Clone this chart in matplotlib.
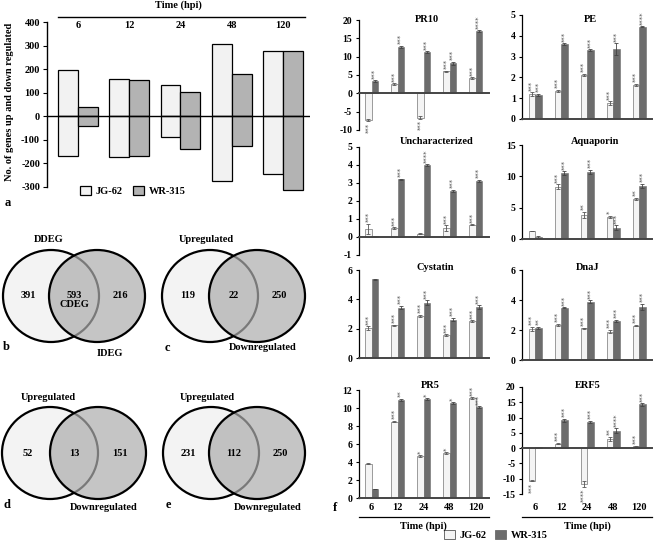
import matplotlib
matplotlib.use("Agg")
import matplotlib.pyplot as plt
import numpy as np
from matplotlib.patches import Ellipse, Rectangle
from matplotlib.lines import Line2D
from matplotlib import transforms

plt.rcParams['font.family'] = ['Liberation Serif', 'DejaVu Serif']
plt.rcParams['font.weight'] = 'bold'
plt.rcParams['axes.unicode_minus'] = False

W, H = 660, 541
fig = plt.figure(figsize=(W / 100, H / 100), dpi=100)

# ---------------- data ----------------
times = ['6', '12', '24', '48', '120']
genotypes = ['JG-62', 'WR-315']

# panel a: number of genes up / down regulated
a_jg_up = [197, 160, 133, 308, 275]
a_jg_down = [-170, -173, -88, -273, -245]
a_wr_up = [38, 152, 105, 178, 275]
a_wr_down = [-42, -168, -140, -128, -313]
a_yticks = [-300, -200, -100, 0, 100, 200, 300, 400]

# venn panels b-e
venn_b = [391, 593, 216]
venn_c = [119, 22, 250]
venn_d = [52, 13, 151]
venn_e = [231, 112, 250]

# panel f: relative expression
genes = ['PR10', 'PE', 'Uncharacterized', 'Aquaporin', 'Cystatin', 'DnaJ', 'PR5', 'ERF5']
jg_vals = {
    'PR10': [-7.3, 2.6, -6.6, 6.0, 4.2],
    'PE': [1.2, 1.36, 2.12, 0.77, 1.65],
    'Uncharacterized': [0.46, 0.5, 0.18, 0.5, 0.68],
    'Aquaporin': [1.25, 8.35, 3.85, 3.5, 6.4],
    'Cystatin': [2.05, 2.22, 2.87, 1.58, 2.53],
    'DnaJ': [2.07, 2.33, 2.11, 1.89, 2.3],
    'PR5': [3.8, 8.5, 4.65, 5.0, 11.08],
    'ERF5': [-10.6, 1.5, -11.6, 3.0, 0.6],
}
wr_vals = {
    'PR10': [3.3, 12.7, 11.2, 8.2, 16.9],
    'PE': [1.17, 3.6, 3.32, 3.37, 4.44],
    'Uncharacterized': [0.04, 3.2, 3.99, 2.57, 3.13],
    'Aquaporin': [0.32, 10.5, 10.75, 1.8, 8.5],
    'Cystatin': [5.38, 3.44, 3.78, 2.62, 3.46],
    'DnaJ': [2.16, 3.49, 3.89, 2.62, 3.55],
    'PR5': [1.0, 10.9, 10.97, 10.52, 10.07],
    'ERF5': [0.25, 9.1, 8.6, 5.7, 14.3],
}
jg_err = {
    'PR10': [0.3, 0.2, 0.3, 0.2, 0.2],
    'PE': [0.1, 0.05, 0.05, 0.1, 0.05],
    'Uncharacterized': [0.28, 0.05, 0.03, 0.15, 0.03],
    'Aquaporin': [0.05, 0.4, 0.5, 0.2, 0.2],
    'Cystatin': [0.12, 0.05, 0.07, 0.05, 0.05],
    'DnaJ': [0.15, 0.08, 0.05, 0.12, 0.05],
    'PR5': [0.05, 0.1, 0.1, 0.1, 0.1],
    'ERF5': [0.3, 0.3, 1.0, 0.8, 0.2],
}
wr_err = {
    'PR10': [0.2, 0.3, 0.3, 0.4, 0.3],
    'PE': [0.05, 0.05, 0.05, 0.27, 0.03],
    'Uncharacterized': [0.02, 0.05, 0.07, 0.05, 0.05],
    'Aquaporin': [0.1, 0.3, 0.3, 0.4, 0.3],
    'Cystatin': [0.03, 0.12, 0.15, 0.12, 0.15],
    'DnaJ': [0.07, 0.05, 0.08, 0.08, 0.2],
    'PR5': [0.05, 0.15, 0.1, 0.1, 0.1],
    'ERF5': [0.1, 0.5, 0.4, 0.8, 0.5],
}
jg_sig = {
    'PR10': ['***', '***', '***', '***', '***'],
    'PE': ['***', '***', '***', '***', '***'],
    'Uncharacterized': ['***', '***', '', '***', '***'],
    'Aquaporin': ['', '***', '**', '*', '**'],
    'Cystatin': ['***', '***', '***', '***', '***'],
    'DnaJ': ['***', '***', '***', '***', '***'],
    'PR5': ['', '***', '*', '*', '***'],
    'ERF5': ['***', '***', '****', '**', '***'],
}
wr_sig = {
    'PR10': ['***', '***', '***', '***', '****'],
    'PE': ['***', '***', '***', '***', '****'],
    'Uncharacterized': ['', '***', '****', '***', '***'],
    'Aquaporin': ['', '***', '***', '***', '***'],
    'Cystatin': ['', '***', '***', '***', '***'],
    'DnaJ': ['**', '***', '***', '***', '***'],
    'PR5': ['', '**', '*', '*', '***'],
    'ERF5': ['', '***', '***', '****', '***'],
}
f_ylims = {
    'PR10': (-10, 20, 5), 'PE': (0, 5, 1),
    'Uncharacterized': (-1, 5, 1), 'Aquaporin': (0, 15, 5),
    'Cystatin': (0, 6, 2), 'DnaJ': (0, 6, 2),
    'PR5': (0, 12, 2), 'ERF5': (-15, 20, 5),
}

# ---------------- helpers ----------------
def add_ax(x0, y0, x1, y1):
    return fig.add_axes([x0 / W, 1 - y1 / H, (x1 - x0) / W, (y1 - y0) / H])

def ftext(x, y, s, **kw):
    kw.setdefault('ha', 'center')
    kw.setdefault('va', 'center')
    kw.setdefault('fontweight', 'bold')
    fig.text(x / W, 1 - y / H, s, **kw)

def fline(x0, x1, y, lw=1.0, color='black'):
    fig.add_artist(Line2D([x0 / W, x1 / W], [1 - y / H, 1 - y / H],
                          transform=fig.transFigure, color=color, lw=lw))

JG_A, WR_A = '#f2f2f2', '#b3b3b3'
JG_F, WR_F = '#f4f4f4', '#6c6c6c'

# ---------------- panel a ----------------
# axis spans 400 (y=22px) to -320 (extra room so the -313 bar is not cut)
a_bottom_px = 187 + 20 * 165 / 700
axa = add_ax(47, 22, 310, a_bottom_px)
x = np.arange(len(times))
bw = 0.39
axa.bar(x - bw / 2, a_jg_up, bw, color=JG_A, edgecolor='black', lw=0.9, label=genotypes[0])
axa.bar(x - bw / 2, a_jg_down, bw, color=JG_A, edgecolor='black', lw=0.9)
axa.bar(x + bw / 2, a_wr_up, bw, color=WR_A, edgecolor='black', lw=0.9, label=genotypes[1])
axa.bar(x + bw / 2, a_wr_down, bw, color=WR_A, edgecolor='black', lw=0.9)
axa.set_xlim(-0.605, 4.527)
axa.set_ylim(-320, 400)
axa.axhline(0, color='black', lw=1.0)
for s in ['top', 'right', 'bottom']:
    axa.spines[s].set_visible(False)
axa.spines['left'].set_linewidth(1.0)
axa.spines['left'].set_bounds(-300, 400)
axa.set_xticks([])
axa.set_yticks(a_yticks)
axa.tick_params(axis='y', labelsize=7.5, length=3, width=0.8, pad=2)
for lab in axa.get_yticklabels():
    lab.set_fontweight('bold')
tr = transforms.blended_transform_factory(axa.transData, fig.transFigure)
for i, t in enumerate(times):
    axa.text(i, 1 - 26 / H, t, transform=tr, ha='center', va='center',
             fontsize=7.5, fontweight='bold')
fline(58, 305, 17, lw=1.0)
ftext(178, 5, 'Time (hpi)', fontsize=7.5)
ftext(10, 102, 'No. of genes up and down regulated', rotation=90, fontsize=7.5)
axa.legend(loc='center', bbox_to_anchor=(133 / W, 1 - 191 / H), bbox_transform=fig.transFigure,
           ncol=2, frameon=False, handlelength=1.0, handleheight=1.0,
           columnspacing=1.0, handletextpad=0.5, borderpad=0.0,
           prop={'weight': 'bold', 'size': 7.5})
ftext(5, 203, 'a', fontsize=9, ha='left')

# ---------------- venn panels ----------------
canvas = fig.add_axes([0, 0, 1, 1], zorder=-1)
canvas.set_xlim(0, W)
canvas.set_ylim(H, 0)
canvas.axis('off')

def venn(cx_left, cx_right, cy, counts, top_label, top_x, top_y, bottom_label, bot_x, bot_y,
         letter, let_x, let_y, mid_extra=None):
    wdt, hgt = 96, 92
    left = Ellipse((cx_left, cy), wdt, hgt, facecolor='#f3f3f3', edgecolor='black', lw=1.6)
    canvas.add_patch(left)
    right_fill = Ellipse((cx_right, cy), wdt, hgt, facecolor=(0.68, 0.68, 0.68, 0.7),
                         edgecolor='none')
    canvas.add_patch(right_fill)
    right_edge = Ellipse((cx_right, cy), wdt, hgt, facecolor='none', edgecolor='black', lw=1.6)
    canvas.add_patch(right_edge)
    kw = dict(ha='center', va='center', fontsize=7.5, fontweight='bold')
    canvas.text((cx_left - wdt / 2 + cx_right - wdt / 2) / 2 + 2, cy, str(counts[0]), **kw)
    mid = (cx_left + cx_right) / 2
    if mid_extra:
        canvas.text(mid, cy + 4, f'{counts[1]}\n{mid_extra}', linespacing=1.0, **kw)
    else:
        canvas.text(mid, cy, str(counts[1]), **kw)
    canvas.text((cx_left + wdt / 2 + cx_right + wdt / 2) / 2 - 2, cy, str(counts[2]), **kw)
    canvas.text(top_x, top_y, top_label, **kw)
    canvas.text(bot_x, bot_y, bottom_label, **kw)
    canvas.text(let_x, let_y, letter, ha='left', va='center', fontsize=9, fontweight='bold')

venn(51, 97, 296, venn_b, 'DDEG', 49, 239, 'IDEG', 110, 353, 'b', 3, 347, mid_extra='CDEG')
venn(210, 257, 296, venn_c, 'Upregulated', 206, 239, 'Downregulated', 263, 348, 'c', 165, 348)
venn(50, 98, 453, venn_d, 'Upregulated', 48, 398, 'Downregulated', 104, 508, 'd', 3, 505)
venn(211, 257, 453, venn_e, 'Upregulated', 207, 398, 'Downregulated', 268, 508, 'e', 166, 505)

# ---------------- panel f ----------------
col_x = [(358.5, 488.5), (522, 652)]
row_y = {
    'PR10': (20, 130), 'PE': (15, 119),
    'Uncharacterized': (147, 255), 'Aquaporin': (145, 239),
    'Cystatin': (270, 358), 'DnaJ': (270, 360),
    'PR5': (390, 498), 'ERF5': (387, 494),
}
title_pos = {
    'PR10': (427, 19), 'PE': (590, 20),
    'Uncharacterized': (437, 142), 'Aquaporin': (595, 142),
    'Cystatin': (435, 268), 'DnaJ': (588, 268),
    'PR5': (430, 385), 'ERF5': (588, 385),
}
fb = 0.25
for gi, g in enumerate(genes):
    c = gi % 2
    y0, y1 = row_y[g]
    ax = add_ax(col_x[c][0], y0, col_x[c][1], y1)
    lo, hi, step = f_ylims[g]
    jv, wv = np.array(jg_vals[g]), np.array(wr_vals[g])
    je, we = np.array(jg_err[g]), np.array(wr_err[g])
    ax.bar(x - fb / 2, jv, fb, color=JG_F, edgecolor='#8c8c8c', lw=0.6,
           yerr=je, error_kw=dict(ecolor='#555555', elinewidth=0.6, capsize=1.5, capthick=0.6))
    ax.bar(x + fb / 2, wv, fb, color=WR_F, edgecolor=WR_F, lw=0.4,
           yerr=we, error_kw=dict(ecolor='#444444', elinewidth=0.6, capsize=1.5, capthick=0.6))
    up = transforms.offset_copy(ax.transData, fig=fig, y=1.0, units='points')
    dn = transforms.offset_copy(ax.transData, fig=fig, y=-1.0, units='points')
    for xs, vals, errs, sig in [(x - fb / 2, jv, je, jg_sig[g]), (x + fb / 2, wv, we, wr_sig[g])]:
        for xi, v, e, s in zip(xs, vals, errs, sig):
            if not s:
                continue
            if v >= 0:
                ax.text(xi, v + e, s, transform=up, rotation=90, ha='center', va='bottom',
                        fontsize=5, color='#555555', clip_on=False, fontfamily='DejaVu Sans',
                        fontweight='normal')
            else:
                ax.text(xi, v - e, s, transform=dn, rotation=90, ha='center', va='top',
                        fontsize=5, color='#555555', clip_on=False, fontfamily='DejaVu Sans',
                        fontweight='normal')
    ax.set_xlim(-0.5, 4.5)
    ax.set_ylim(lo, hi)
    ax.set_yticks(np.arange(lo, hi + 0.01, step))
    ax.tick_params(axis='y', labelsize=7, length=2.5, width=0.8, pad=2)
    for lab in ax.get_yticklabels():
        lab.set_fontweight('bold')
    ax.set_xticks([])
    ax.spines['top'].set_visible(False)
    ax.spines['right'].set_visible(False)
    ax.spines['bottom'].set_position(('data', 0))
    ax.spines['bottom'].set_linewidth(1.4)
    ax.spines['bottom'].set_color('#444444')
    ax.spines['left'].set_linewidth(0.9)
    ax.patch.set_alpha(0)
    tx, ty = title_pos[g]
    ftext(tx, ty, g, fontsize=7.5)
    if g in ('PR5', 'ERF5'):
        trb = transforms.blended_transform_factory(ax.transData, fig.transFigure)
        for i, t in enumerate(times):
            ax.text(i, 1 - 507 / H, t, transform=trb, ha='center', va='center',
                    fontsize=7.5, fontweight='bold')
        xl = col_x[c]
        fline(xl[0], xl[1], 517, lw=0.9)
        ftext((xl[0] + xl[1]) / 2, 526, 'Time (hpi)', fontsize=7.5)
        if g == 'PR5':
            legax = ax

ftext(335, 508, 'f', fontsize=9)
handles = [Rectangle((0, 0), 1, 1, facecolor=JG_F, edgecolor='#555555', lw=0.6),
           Rectangle((0, 0), 1, 1, facecolor=WR_F, edgecolor=WR_F, lw=0.6)]
legax.legend(handles, genotypes, loc='center', bbox_to_anchor=(496 / W, 1 - 535 / H),
             bbox_transform=fig.transFigure, ncol=2, frameon=False, handlelength=1.0,
             handleheight=1.0, columnspacing=0.8, handletextpad=0.5, borderpad=0.0,
             prop={'weight': 'bold', 'size': 7.5})

fig.savefig('out.png', dpi=100)
